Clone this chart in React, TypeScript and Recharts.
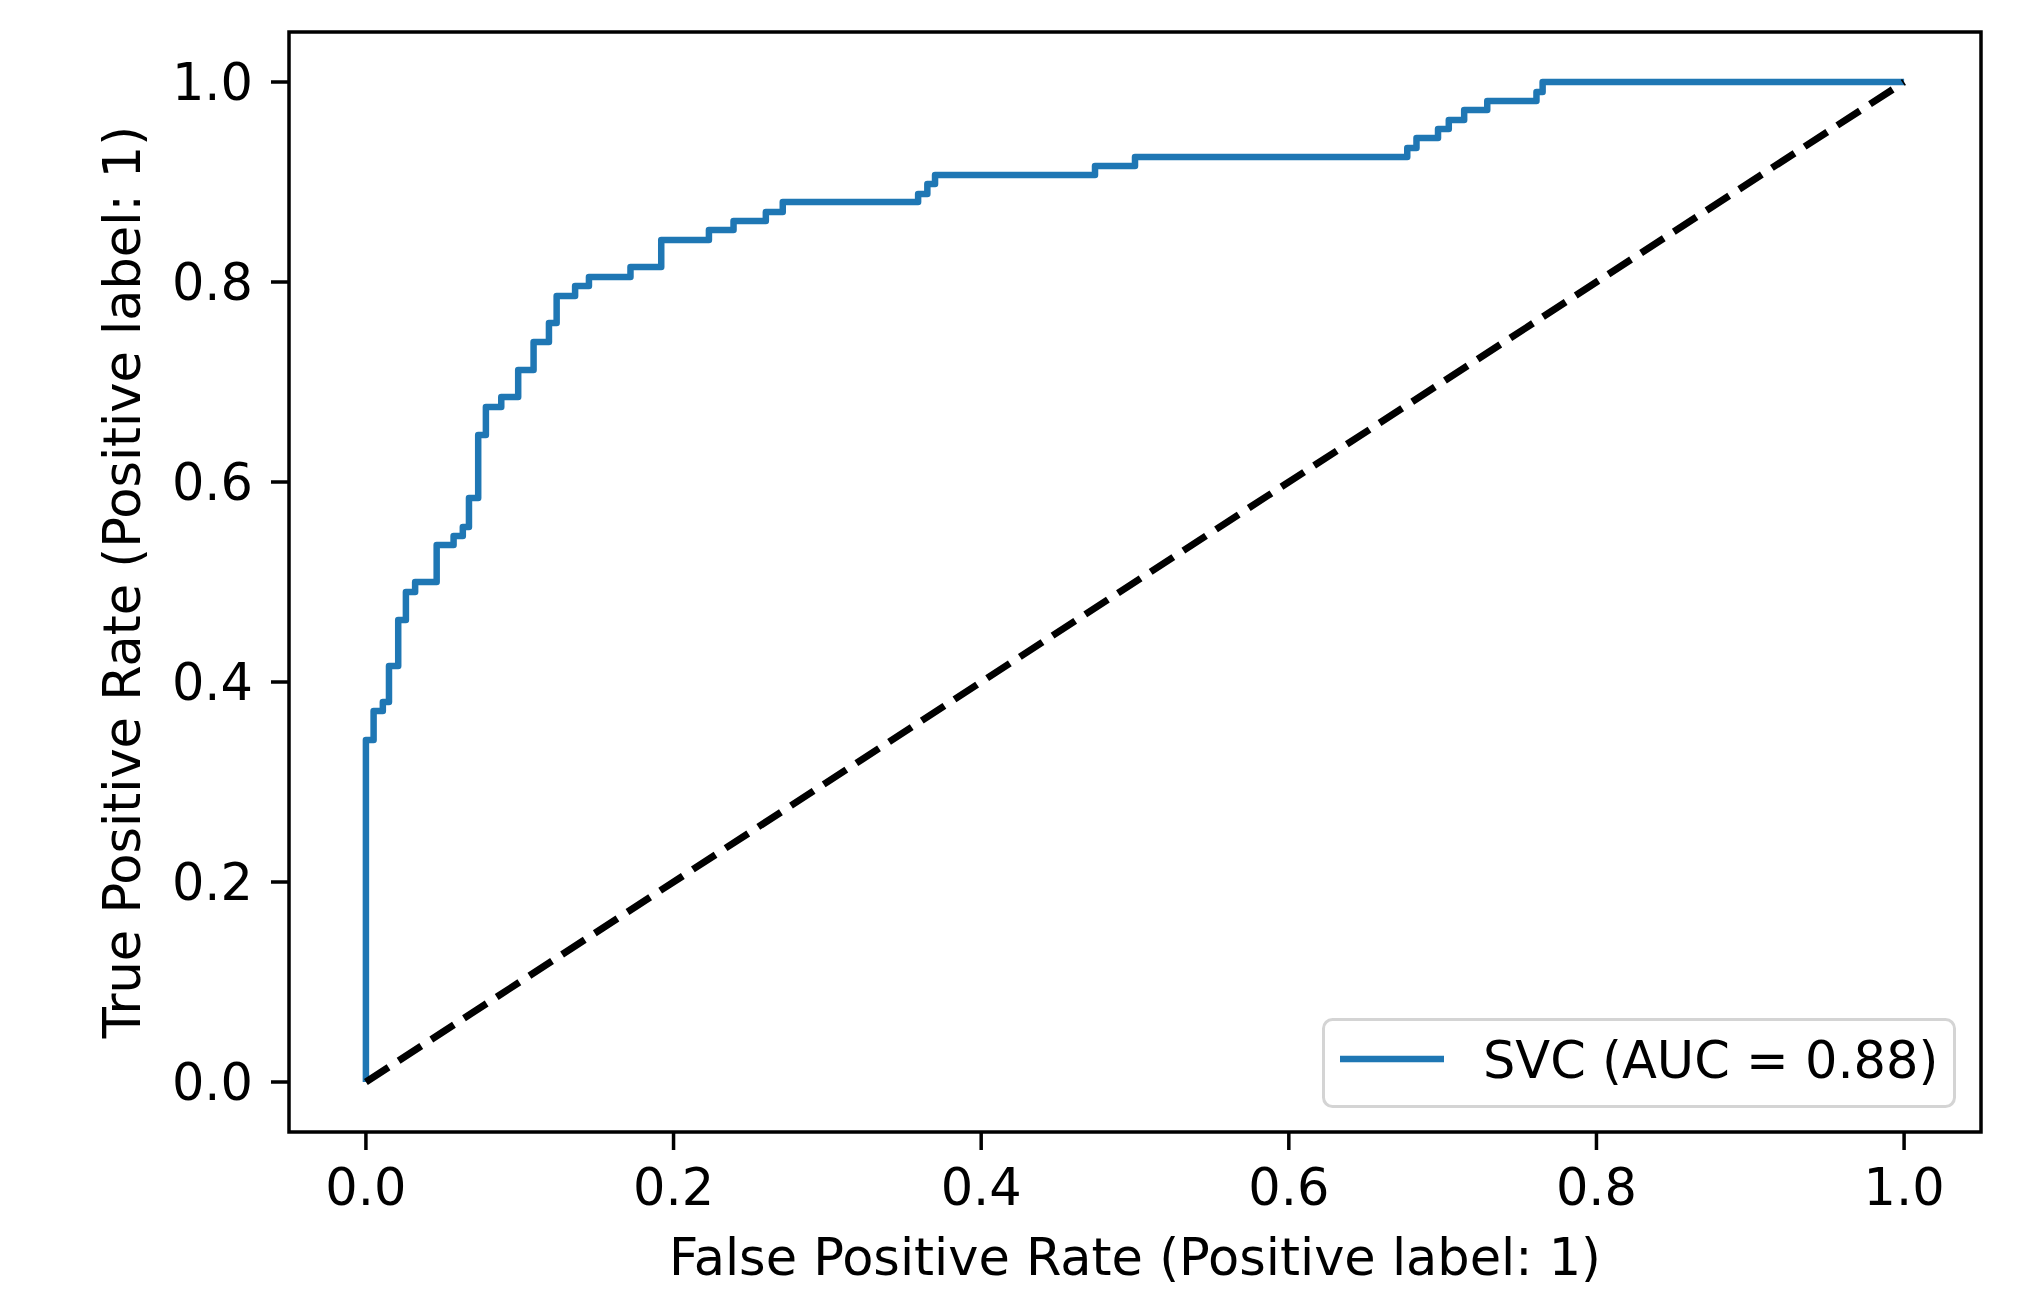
import React from "react";
import {
  LineChart,
  Line,
  XAxis,
  YAxis,
  Legend,
  ReferenceArea,
  Label,
} from "recharts";

// ROC corner points (top of each vertical jump)
const fpr = [
  0, 0, 0.005, 0.011, 0.015, 0.021, 0.026, 0.032, 0.046, 0.057, 0.063, 0.067,
  0.073, 0.078, 0.088, 0.099, 0.109, 0.119, 0.124, 0.136, 0.145, 0.172, 0.192,
  0.223, 0.239, 0.26, 0.271, 0.359, 0.365, 0.37, 0.474, 0.5, 0.677, 0.683,
  0.697, 0.704, 0.714, 0.729, 0.761, 0.765, 1.0,
];
const tpr = [
  0, 0.342, 0.371, 0.38, 0.416, 0.462, 0.49, 0.5, 0.537, 0.546, 0.555, 0.584,
  0.647, 0.675, 0.685, 0.712, 0.74, 0.759, 0.786, 0.796, 0.805, 0.815, 0.842,
  0.852, 0.861, 0.87, 0.88, 0.888, 0.898, 0.907, 0.916, 0.925, 0.934, 0.944,
  0.953, 0.962, 0.972, 0.981, 0.99, 1.0, 1.0,
];

const chanceX = [0, 1];
const chanceY = [0, 1];

const ticks = [0, 0.2, 0.4, 0.6, 0.8, 1.0];
const legendLabel = "SVC (AUC = 0.88)";

const rocData = fpr.map((x, i) => ({ fpr: x, tpr: tpr[i] }));
const chanceData = chanceX.map((x, i) => ({ fpr: x, tpr: chanceY[i] }));

const FONT = "DejaVu Sans";
const FS = 51;
const BLUE = "#1f77b4";

function LegendBox() {
  return (
    <svg width={634} height={90} style={{ display: "block" }}>
      <rect
        x={1.5}
        y={1.5}
        width={631}
        height={87}
        rx={9}
        fill="rgba(255,255,255,0.8)"
        stroke="#d4d4d4"
        strokeWidth={3}
      />
      <line x1={18} x2={122} y1={41} y2={41} stroke={BLUE} strokeWidth={6.5} />
      <text x={161} y={60} fontFamily={FONT} fontSize={FS} fill="#000">
        {legendLabel}
      </text>
    </svg>
  );
}

export default function App() {
  return (
    <div
      style={{
        position: "absolute",
        left: 0,
        top: 0,
        width: 2033,
        height: 1290,
        background: "#fff",
      }}
    >
      <LineChart
        width={2033}
        height={1290}
        margin={{ top: 32, right: 52, left: 0, bottom: 0 }}
      >
        <XAxis
          dataKey="fpr"
          type="number"
          domain={[-0.05, 1.05]}
          allowDataOverflow
          ticks={ticks}
          tickFormatter={(v: number) => v.toFixed(1)}
          height={158}
          axisLine={false}
          tickSize={18}
          tickMargin={19}
          tickLine={{ stroke: "#000", strokeWidth: 3.5 }}
          tick={{ fill: "#000", fontSize: FS, fontFamily: FONT }}
        >
          <Label
            content={(props: any) => {
              const vb = props.viewBox || {};
              return (
                <text
                  x={vb.x + vb.width / 2}
                  y={1275}
                  textAnchor="middle"
                  fontFamily={FONT}
                  fontSize={FS}
                  fill="#000"
                >
                  False Positive Rate (Positive label: 1)
                </text>
              );
            }}
          />
        </XAxis>
        <YAxis
          type="number"
          domain={[-0.05, 1.05]}
          allowDataOverflow
          ticks={ticks}
          tickFormatter={(v: number) => v.toFixed(1)}
          width={289}
          axisLine={false}
          tickSize={18}
          tickMargin={18}
          tickLine={{ stroke: "#000", strokeWidth: 3.5 }}
          tick={{ fill: "#000", fontSize: FS, fontFamily: FONT }}
        >
          <Label
            content={(props: any) => {
              const vb = props.viewBox || {};
              const cy = vb.y + vb.height / 2;
              return (
                <text
                  x={140}
                  y={cy}
                  transform={`rotate(-90, 140, ${cy})`}
                  textAnchor="middle"
                  fontFamily={FONT}
                  fontSize={FS}
                  fill="#000"
                >
                  True Positive Rate (Positive label: 1)
                </text>
              );
            }}
          />
        </YAxis>
        <Line
          data={rocData}
          dataKey="tpr"
          type="stepAfter"
          stroke={BLUE}
          strokeWidth={6.5}
          strokeLinejoin="round"
          dot={false}
          activeDot={false}
          isAnimationActive={false}
        />
        <Line
          data={chanceData}
          dataKey="tpr"
          type="linear"
          stroke="#000"
          strokeWidth={7}
          strokeDasharray="27 12"
          dot={false}
          activeDot={false}
          isAnimationActive={false}
        />
        <ReferenceArea
          x1={-0.05}
          x2={1.05}
          y1={-0.05}
          y2={1.05}
          ifOverflow="visible"
          fill="none"
          stroke="#000"
          strokeWidth={3.5}
        />
        <Legend
          layout="horizontal"
          verticalAlign="middle"
          align="center"
          wrapperStyle={{ left: 1322, top: 1018, width: 634, height: 90 }}
          content={() => <LegendBox />}
        />
      </LineChart>
    </div>
  );
}
